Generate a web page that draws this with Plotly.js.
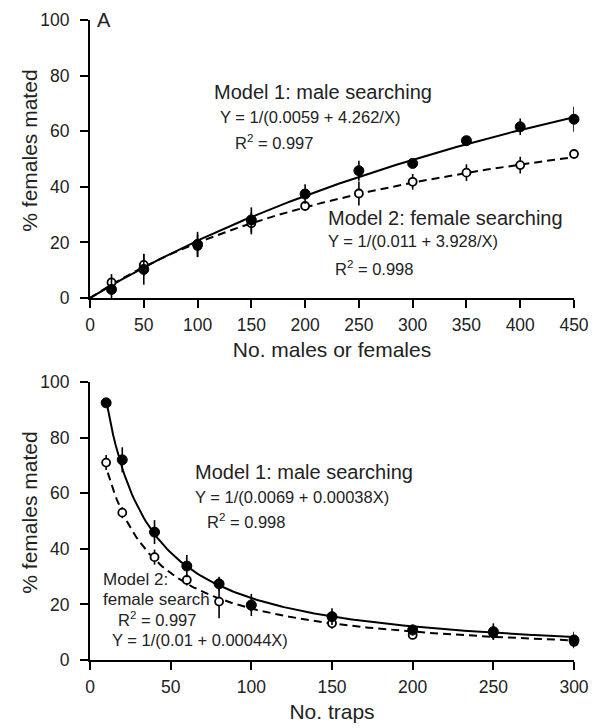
<!DOCTYPE html>
<html>
<head>
<meta charset="utf-8">
<script src="https://cdn.plot.ly/plotly-3.0.1.min.js"></script>
<style>html,body{margin:0;padding:0;background:#fff;}#chart{width:600px;height:728px;}</style>
</head>
<body>
<div id="chart"></div>
<script>
// Panel A data
var xA = [20, 50, 100, 150, 200, 250, 300, 350, 400, 450];
var maleA = [3.1, 10.3, 19.3, 28.1, 37.4, 45.8, 48.4, 56.6, 61.6, 64.3];
var maleAErr = [4, 5.5, 4.5, 4.5, 3.5, 3.6, 1.2, 1.5, 3, 4.5];
var femaleA = [5.6, 11.9, 18.7, 26.9, 33.1, 37.6, 41.8, 45.1, 47.8, 51.8];
var femaleAErr = [3, 4, 4, 4, 1.5, 4.3, 2.8, 3, 3, 0];
// Panel B data
var xB = [10, 20, 40, 60, 80, 100, 150, 200, 250, 300];
var maleB = [92.5, 72, 46, 33.8, 27.4, 19.8, 15.6, 10.8, 10.2, 7.2];
var maleBErr = [1.5, 4.5, 4.3, 4, 2.5, 4, 3, 2, 3, 3];
var femaleB = [71, 53, 37, 28.8, 21, 19.5, 13.2, 9, 9.5, 6.5];
var femaleBErr = [2.7, 2, 2.7, 2, 6, 2, 2, 1.5, 2, 2];
// Fitted model parameters (from the printed equations)
var modelA1 = [0.0059, 4.262];   // Y = 1/(a + b/X)
var modelA2 = [0.011, 3.928];
var modelB1 = [0.0069, 0.00038]; // Y = 1/(a + b*X)
var modelB2 = [0.01, 0.00044];
var xTicksA = [0, 50, 100, 150, 200, 250, 300, 350, 400, 450];
var xTicksB = [0, 50, 100, 150, 200, 250, 300];
var yTicks = [0, 20, 40, 60, 80, 100];

function curveA(p, x0, x1) {
  var xs = [], ys = [];
  for (var i = 0; i <= 200; i++) {
    var x = x0 + (x1 - x0) * i / 200;
    xs.push(x);
    ys.push(x === 0 ? 0 : 1 / (p[0] + p[1] / x));
  }
  return {x: xs, y: ys};
}
function curveB(p, x0, x1) {
  var xs = [], ys = [];
  for (var i = 0; i <= 200; i++) {
    var x = x0 + (x1 - x0) * i / 200;
    xs.push(x);
    ys.push(1 / (p[0] + p[1] * x));
  }
  return {x: xs, y: ys};
}

var cA1 = curveA(modelA1, 0, 450), cA2 = curveA(modelA2, 0, 450);
var cB1 = curveB(modelB1, 10, 300), cB2 = curveB(modelB2, 11, 300);

var lineSolid = {color: '#000', width: 2};
var lineDash = {color: '#000', width: 2, dash: '8px,5px'};
function errs(arr) { return {type: 'data', array: arr, visible: true, color: '#000', thickness: 1.6, width: 0}; }
var filledM = {symbol: 'circle', size: 10, color: '#000', line: {color: '#000', width: 1}};
var openM = {symbol: 'circle', size: 8, color: '#fff', line: {color: '#000', width: 1.8}};

var traces = [
  {x: cA2.x, y: cA2.y, mode: 'lines', line: lineDash, xaxis: 'x', yaxis: 'y', hoverinfo: 'skip', cliponaxis: false},
  {x: cA1.x, y: cA1.y, mode: 'lines', line: lineSolid, xaxis: 'x', yaxis: 'y', hoverinfo: 'skip', cliponaxis: false},
  {x: xA, y: femaleA, mode: 'markers', marker: openM, error_y: errs(femaleAErr), xaxis: 'x', yaxis: 'y', cliponaxis: false},
  {x: xA, y: maleA, mode: 'markers', marker: filledM, error_y: errs(maleAErr), xaxis: 'x', yaxis: 'y', cliponaxis: false},
  {x: cB2.x, y: cB2.y, mode: 'lines', line: lineDash, xaxis: 'x2', yaxis: 'y2', hoverinfo: 'skip', cliponaxis: false},
  {x: cB1.x, y: cB1.y, mode: 'lines', line: lineSolid, xaxis: 'x2', yaxis: 'y2', hoverinfo: 'skip', cliponaxis: false},
  {x: xB, y: femaleB, mode: 'markers', marker: openM, error_y: errs(femaleBErr), xaxis: 'x2', yaxis: 'y2', cliponaxis: false},
  {x: xB, y: maleB, mode: 'markers', marker: filledM, error_y: errs(maleBErr), xaxis: 'x2', yaxis: 'y2', cliponaxis: false}
];

var fontFam = 'Liberation Sans, Arial, Helvetica, sans-serif';
var txtCol = '#222';
function axisCommon(extra) {
  var a = {
    showline: true, linecolor: '#000', linewidth: 2, mirror: false,
    ticks: 'outside', ticklen: 8, tickwidth: 2, tickcolor: '#000',
    showgrid: false, zeroline: false, fixedrange: true,
    tickfont: {family: fontFam, size: 17.5, color: txtCol}
  };
  for (var k in extra) a[k] = extra[k];
  return a;
}

function ann(xref, yref, x, y, text, size) {
  return {xref: xref, yref: yref, x: x, y: y, text: text, showarrow: false,
          xanchor: 'left', yanchor: 'middle', font: {family: fontFam, size: size, color: txtCol}};
}
function yTitle(yref, y, text) {
  return {xref: 'paper', yref: yref, x: (30 - 90) / 484, y: y, text: text, showarrow: false,
          textangle: -90, xanchor: 'center', yanchor: 'middle',
          font: {family: fontFam, size: 21, color: txtCol}};
}

var layout = {
  width: 600, height: 728,
  margin: {l: 90, r: 26, t: 20, b: 68},
  paper_bgcolor: '#fff', plot_bgcolor: '#fff',
  showlegend: false,
  font: {family: fontFam, color: txtCol},
  xaxis: axisCommon({domain: [0, 1], anchor: 'y', range: [0, 450], tickvals: xTicksA, ticklabelstandoff: 2,
    title: {text: 'No. males or females', font: {family: fontFam, size: 21, color: txtCol}, standoff: 8}}),
  yaxis: axisCommon({domain: [0.5656, 1], anchor: 'x', range: [0, 100], tickvals: yTicks, ticklabelstandoff: 7}),
  xaxis2: axisCommon({domain: [0, 1], anchor: 'y2', range: [0, 300], tickvals: xTicksB, ticklabelstandoff: 2,
    title: {text: 'No. traps', font: {family: fontFam, size: 21, color: txtCol}, standoff: 8}}),
  yaxis2: axisCommon({domain: [0, 0.4344], anchor: 'x2', range: [0, 100], tickvals: yTicks, ticklabelstandoff: 7}),
  annotations: [
    yTitle('y', 53, '% females mated'),
    yTitle('y2', 53, '% females mated'),
    ann('x', 'y', 4.5, 100, 'A', 20),
    ann('x', 'y', 113.4, 74.1, 'Model 1: male searching', 20),
    ann('x', 'y', 119, 65.1, 'Y = 1/(0.0059 + 4.262/X)', 16.5),
    ann('x', 'y', 133, 56.1, 'R<sup>2</sup> = 0.997', 16.5),
    ann('x', 'y', 219.4, 28.8, 'Model 2: female searching', 20),
    ann('x', 'y', 219.4, 20.5, 'Y = 1/(0.011 + 3.928/X)', 16.5),
    ann('x', 'y', 226, 10.8, 'R<sup>2</sup> = 0.998', 16.5),
    ann('x2', 'y2', 3, 100.6, 'B', 20),
    ann('x2', 'y2', 63.8, 67.6, 'Model 1: male searching', 20),
    ann('x2', 'y2', 63.8, 58.6, 'Y = 1/(0.0069 + 0.00038X)', 16.5),
    ann('x2', 'y2', 71.3, 50, 'R<sup>2</sup> = 0.998', 16.5),
    ann('x2', 'y2', 6.8, 28.8, 'Model 2:', 17),
    ann('x2', 'y2', 6.8, 21.6, 'female search', 17),
    ann('x2', 'y2', 16.1, 14.7, 'R<sup>2</sup> = 0.997', 16.5),
    ann('x2', 'y2', 12.4, 7.2, 'Y = 1/(0.01 + 0.00044X)', 16.5)
  ]
};

Plotly.newPlot('chart', traces, layout, {staticPlot: true, displayModeBar: false});
</script>
</body>
</html>
